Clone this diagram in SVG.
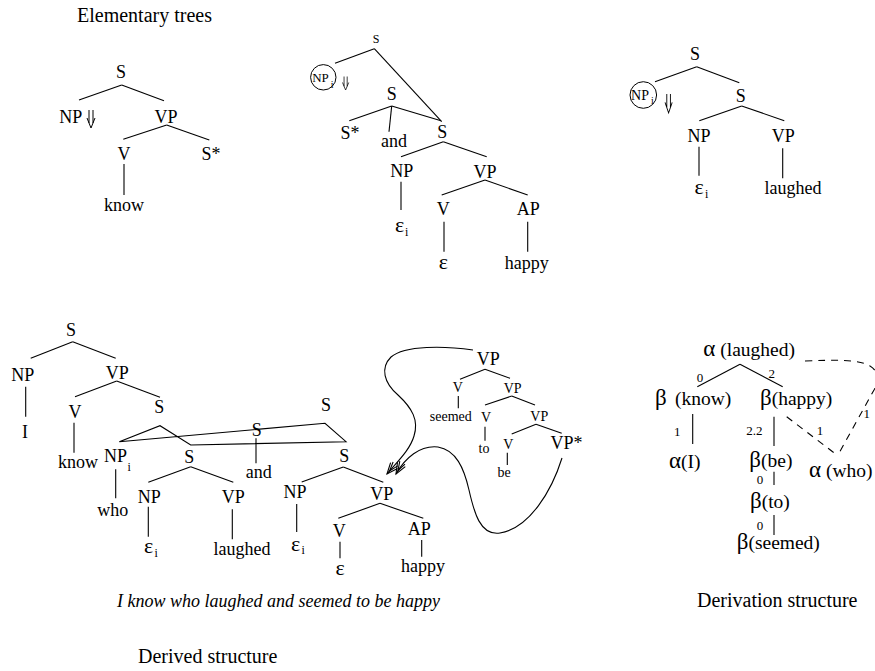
<svg xmlns="http://www.w3.org/2000/svg" xmlns:xlink="http://www.w3.org/1999/xlink" width="875" height="671" viewBox="0 0 875 671">
  <style>
    text { font-family: "Liberation Serif", "Times New Roman", serif; fill: #000; }
    .t { font-size: 18px; text-anchor: middle; }
    .s { font-size: 14px; text-anchor: middle; }
    .xs { font-size: 12px; text-anchor: middle; }
    .sub { font-size: 12px; text-anchor: start; }
    .eps { font-size: 22px; text-anchor: middle; }
    .d { font-size: 19.5px; }
    .gk { font-size: 23px; }
    .n { font-size: 13px; text-anchor: middle; }
    .title { font-size: 20px; }
    .it { font-size: 18px; font-style: italic; }
    .e line, .e path, .e polygon { stroke: #000; stroke-width: 1.1; fill: none; }
    .dash { stroke-dasharray: 7 6; }
    .ring { stroke: #000; stroke-width: 1; fill: none; }
    .dn { stroke: #000; stroke-width: 1; fill: none; }
  </style>
  <defs>
    <!-- substitution marker: thin down double arrow -->
    <path id="down" class="dn" d="M2,0 V13 M6,0 V13 M0,8 L4,18 L8,8"/>
  </defs>

  <rect width="875" height="671" fill="#fff"/>

  <!-- headings -->
  <g id="heading-elementary"><text class="title" x="77" y="22">Elementary trees</text></g>
  <g id="heading-sentence"><text class="it" x="117" y="607">I know who laughed and seemed to be happy</text></g>
  <g id="heading-derived"><text class="title" x="138" y="663">Derived structure</text></g>
  <g id="heading-derivation"><text class="title" x="697" y="607">Derivation structure</text></g>

  <!-- ===== elementary tree: know ===== -->
  <g id="know-tree">
    <g class="e" id="know-edges">
      <line x1="121.7" y1="85" x2="79" y2="100"/>
      <line x1="121.7" y1="85" x2="164" y2="100.7"/>
      <line x1="166.7" y1="125" x2="123.3" y2="139.3"/>
      <line x1="166.7" y1="125" x2="209.3" y2="140"/>
      <line x1="124" y1="164" x2="124" y2="195"/>
    </g>
    <g id="k-S"><text class="t" x="121" y="78">S</text></g>
    <g id="k-NP"><text class="t" x="70.8" y="123">NP</text><use xlink:href="#down" transform="translate(87,110)"/></g>
    <g id="k-VP"><text class="t" x="166" y="123">VP</text></g>
    <g id="k-V"><text class="t" x="124" y="160">V</text></g>
    <g id="k-Sfoot"><text class="t" x="211" y="160">S*</text></g>
    <g id="k-know"><text class="t" x="124" y="210.7">know</text></g>
  </g>

  <!-- ===== elementary tree: and / happy ===== -->
  <g id="happy-tree">
    <g class="e" id="happy-edges">
      <line x1="374.3" y1="48.7" x2="335" y2="63.3"/>
      <line x1="374.3" y1="48.7" x2="441.7" y2="121.7"/>
      <line x1="391.7" y1="106" x2="349.3" y2="120.7"/>
      <line x1="391.7" y1="106" x2="389" y2="131.7"/>
      <line x1="391.7" y1="106" x2="441" y2="120.7"/>
      <line x1="443.3" y1="141.7" x2="401" y2="156.7"/>
      <line x1="443.3" y1="141.7" x2="486.7" y2="156.7"/>
      <line x1="401" y1="181.7" x2="401" y2="210"/>
      <line x1="485" y1="180" x2="441.7" y2="195"/>
      <line x1="485" y1="180" x2="527.7" y2="195"/>
      <line x1="444" y1="221.7" x2="444" y2="251.7"/>
      <line x1="527.7" y1="221.7" x2="527.7" y2="251.7"/>
    </g>
    <g id="h-Stop"><text class="xs" x="376" y="43">S</text></g>
    <g id="h-NPi">
      <circle class="ring" cx="323.3" cy="77.3" r="12.7"/>
      <text class="n" x="320.5" y="81.5">NP</text><text class="sub" x="330.8" y="88" style="font-size:10px">i</text>
      <use xlink:href="#down" transform="translate(342.5,76.5) scale(0.78,0.75)"/>
    </g>
    <g id="h-S1"><text class="t" x="391.7" y="100">S</text></g>
    <g id="h-Sfoot"><text class="t" x="350" y="139.3">S*</text></g>
    <g id="h-and"><text class="t" x="394" y="146.7">and</text></g>
    <g id="h-S2"><text class="t" x="442.3" y="138.3">S</text></g>
    <g id="h-NP"><text class="t" x="401.7" y="177.3">NP</text></g>
    <g id="h-eps-i"><text class="eps" x="399.5" y="231.5">ε</text><text class="sub" x="405" y="235.5">i</text></g>
    <g id="h-VP"><text class="t" x="485" y="178.3">VP</text></g>
    <g id="h-V"><text class="t" x="443.3" y="215">V</text></g>
    <g id="h-AP"><text class="t" x="528.3" y="215">AP</text></g>
    <g id="h-eps"><text class="eps" x="443.3" y="269.3">ε</text></g>
    <g id="h-happy"><text class="t" x="526.7" y="269.3">happy</text></g>
  </g>

  <!-- ===== elementary tree: laughed ===== -->
  <g id="laughed-tree">
    <g class="e" id="laughed-edges">
      <line x1="696.7" y1="66.7" x2="655" y2="81.7"/>
      <line x1="696.7" y1="66.7" x2="739.3" y2="82.7"/>
      <line x1="741.7" y1="106" x2="699.3" y2="120.7"/>
      <line x1="741.7" y1="106" x2="784.3" y2="120.7"/>
      <line x1="699" y1="146.7" x2="699" y2="175.7"/>
      <line x1="782.7" y1="148.3" x2="782.7" y2="178.3"/>
    </g>
    <g id="l-S"><text class="t" x="695" y="60">S</text></g>
    <g id="l-NPi">
      <circle class="ring" cx="643.3" cy="95" r="13.3"/>
      <text class="s" x="640" y="100">NP</text><text class="sub" x="651" y="104" style="font-size:10px">i</text>
      <use xlink:href="#down" transform="translate(665,94) scale(0.9,1.05)"/>
    </g>
    <g id="l-S2"><text class="t" x="740.7" y="101.7">S</text></g>
    <g id="l-NP"><text class="t" x="699" y="141.7">NP</text></g>
    <g id="l-VP"><text class="t" x="783.3" y="141.7">VP</text></g>
    <g id="l-eps-i"><text class="eps" x="699.2" y="194.3">ε</text><text class="sub" x="705" y="198">i</text></g>
    <g id="l-laughed"><text class="t" x="793" y="194.3">laughed</text></g>
  </g>

  <!-- ===== derived structure ===== -->
  <g id="derived-tree">
    <g class="e" id="derived-edges">
      <line x1="72.7" y1="341.7" x2="30.7" y2="358.3"/>
      <line x1="72.7" y1="341.7" x2="115.7" y2="358.3"/>
      <line x1="25.7" y1="386.7" x2="25.7" y2="416.7"/>
      <line x1="116.7" y1="381" x2="75" y2="396.7"/>
      <line x1="116.7" y1="381" x2="160" y2="397.3"/>
      <line x1="74" y1="422.7" x2="74" y2="452.7"/>
      <line x1="115.7" y1="469.3" x2="115.7" y2="498.3"/>
      <polygon points="119.3,441.7 160,425.7 190.7,445 346,441.7 325,423.3"/>
      <line x1="256" y1="438.3" x2="256" y2="463.3"/>
      <line x1="190.7" y1="466.7" x2="148.3" y2="482.3"/>
      <line x1="190.7" y1="466.7" x2="233.3" y2="482.3"/>
      <line x1="148.3" y1="506.7" x2="148.3" y2="536.7"/>
      <line x1="232.3" y1="509.3" x2="232.3" y2="539.3"/>
      <line x1="343.3" y1="467" x2="301.7" y2="482"/>
      <line x1="343.3" y1="467" x2="383.3" y2="482.3"/>
      <line x1="296.7" y1="504" x2="296.7" y2="532"/>
      <line x1="380" y1="503.3" x2="338.3" y2="518.3"/>
      <line x1="380" y1="503.3" x2="423.3" y2="518.3"/>
      <line x1="340" y1="541.7" x2="340" y2="558.3"/>
      <line x1="421.7" y1="540" x2="421.7" y2="556.7"/>
    </g>
    <g id="d-S"><text class="t" x="71" y="336">S</text></g>
    <g id="d-NP"><text class="t" x="22.7" y="380.7">NP</text></g>
    <g id="d-I"><text class="t" x="25" y="438.3">I</text></g>
    <g id="d-VP"><text class="t" x="117.3" y="379.3">VP</text></g>
    <g id="d-V"><text class="t" x="75" y="417.7">V</text></g>
    <g id="d-know"><text class="t" x="78" y="468.3">know</text></g>
    <g id="d-S1"><text class="t" x="159.3" y="412.7">S</text></g>
    <g id="d-NPi"><text class="t" x="115.5" y="461.7">NP</text><text class="sub" x="127.5" y="471">i</text></g>
    <g id="d-who"><text class="t" x="112.7" y="516">who</text></g>
    <g id="d-Smid"><text class="t" x="256.7" y="436">S</text></g>
    <g id="d-Sright"><text class="t" x="326" y="411">S</text></g>
    <g id="d-and"><text class="t" x="258.8" y="478.3">and</text></g>
    <g id="d-S2"><text class="t" x="189.3" y="463.3">S</text></g>
    <g id="d-NP2"><text class="t" x="149.3" y="502.7">NP</text></g>
    <g id="d-VP2"><text class="t" x="233.3" y="502.7">VP</text></g>
    <g id="d-eps-i1"><text class="eps" x="148.5" y="553.3">ε</text><text class="sub" x="154.5" y="557">i</text></g>
    <g id="d-laughed"><text class="t" x="242" y="555">laughed</text></g>
    <g id="d-S3"><text class="t" x="344.3" y="461.7">S</text></g>
    <g id="d-NP3"><text class="t" x="295" y="498.3">NP</text></g>
    <g id="d-eps-i2"><text class="eps" x="295.5" y="550.5">ε</text><text class="sub" x="301.5" y="554">i</text></g>
    <g id="d-VP3"><text class="t" x="381.7" y="500">VP</text></g>
    <g id="d-V3"><text class="t" x="339.3" y="536.7">V</text></g>
    <g id="d-AP"><text class="t" x="419.3" y="535">AP</text></g>
    <g id="d-eps"><text class="eps" x="340" y="575">ε</text></g>
    <g id="d-happy"><text class="t" x="423" y="571.7">happy</text></g>
  </g>

  <!-- ===== auxiliary VP tree (seemed to be) ===== -->
  <g id="seemed-tree">
    <g class="e" id="seemed-edges">
      <line x1="485" y1="369.3" x2="460" y2="379.3"/>
      <line x1="485" y1="369.3" x2="510" y2="378.3"/>
      <line x1="458.3" y1="396" x2="458.3" y2="408.3"/>
      <line x1="511.7" y1="396" x2="485" y2="405"/>
      <line x1="511.7" y1="396" x2="535" y2="405"/>
      <line x1="485" y1="426.7" x2="485" y2="440.7"/>
      <line x1="536" y1="424.3" x2="511.7" y2="434"/>
      <line x1="536" y1="424.3" x2="561.7" y2="433.3"/>
      <line x1="507.3" y1="452.7" x2="507.3" y2="465"/>
    </g>
    <g id="a-VP"><text class="t" x="488.3" y="365">VP</text></g>
    <g id="a-V1"><text class="s" x="457.7" y="391.7">V</text></g>
    <g id="a-seemed"><text class="s" x="450.8" y="421">seemed</text></g>
    <g id="a-VP1"><text class="s" x="512.7" y="392.7">VP</text></g>
    <g id="a-V2"><text class="s" x="486" y="421.7">V</text></g>
    <g id="a-to"><text class="s" x="484" y="453.3">to</text></g>
    <g id="a-VP2"><text class="s" x="539.3" y="421">VP</text></g>
    <g id="a-V3"><text class="s" x="508.3" y="449.3">V</text></g>
    <g id="a-be"><text class="s" x="504" y="476.7">be</text></g>
    <g id="a-VPfoot"><text class="t" x="566.5" y="449.3">VP*</text></g>
  </g>

  <!-- adjunction arrows -->
  <g class="e" id="adjunction-arrows">
    <path d="M473,350 C445,346 405,345 391,357 C380,368 384,383 398,395 C412,408 419,420 414,436 C410,450 397,462 387,474"/>
    <path d="M562,458 C552,490 530,528 500,533 C480,536 474,512 469,490 C464,468 456,450 438,447 C420,445 405,458 396,474"/>
    <path d="M397.5,468.4 L387,474 L390.6,462.6 M397.7,465.9 L389.6,470.9 L393.1,462"/>
    <path d="M405.3,466.6 L396,474 L397.5,462.2 M405,464.2 L398,470.5 L399.8,461.2"/>
  </g>

  <!-- ===== derivation structure ===== -->
  <g id="derivation">
    <g class="e" id="derivation-edges">
      <line x1="740" y1="364.3" x2="697.3" y2="386.7"/>
      <line x1="740" y1="364.3" x2="782.7" y2="386.7"/>
      <line x1="692.7" y1="414" x2="692.7" y2="444"/>
      <line x1="774" y1="416.7" x2="774" y2="446"/>
      <line x1="774" y1="471.7" x2="774" y2="485"/>
      <line x1="774" y1="515" x2="774" y2="535"/>
      <line class="dash" x1="786.7" y1="416.7" x2="837" y2="455"/>
      <path class="dash" d="M805,361 C835,360 858,359 870,366 C880,372 878,382 874,390 L838,455"/>
    </g>
    <g id="g-laughed"><text class="d" x="703.3" y="356"><tspan class="gk">α</tspan> (laughed)</text></g>
    <g id="g-know"><text class="d gk" x="655" y="405">β</text><text class="d" x="675" y="405">(know)</text></g>
    <g id="g-happy"><text class="d" x="760" y="405"><tspan class="gk">β</tspan>(happy)</text></g>
    <g id="g-I"><text class="d" x="669" y="468.3"><tspan class="gk">α</tspan>(I)</text></g>
    <g id="g-be"><text class="d" x="749.3" y="466.7"><tspan class="gk">β</tspan>(be)</text></g>
    <g id="g-to"><text class="d" x="750" y="508.3"><tspan class="gk">β</tspan>(to)</text></g>
    <g id="g-seemed"><text class="d" x="736.7" y="549.3"><tspan class="gk">β</tspan>(seemed)</text></g>
    <g id="g-who"><text class="d" x="809" y="476.7"><tspan class="gk">α</tspan> (who)</text></g>
    <g id="g-addresses">
      <text class="n" x="700" y="381.7">0</text>
      <text class="n" x="771.7" y="378.3">2</text>
      <text class="n" x="677.3" y="436">1</text>
      <text class="n" x="754.3" y="435">2.2</text>
      <text class="n" x="820" y="435">1</text>
      <text class="n" x="866.7" y="418.3">1</text>
      <text class="n" x="760" y="484">0</text>
      <text class="n" x="760" y="530">0</text>
    </g>
  </g>
</svg>
